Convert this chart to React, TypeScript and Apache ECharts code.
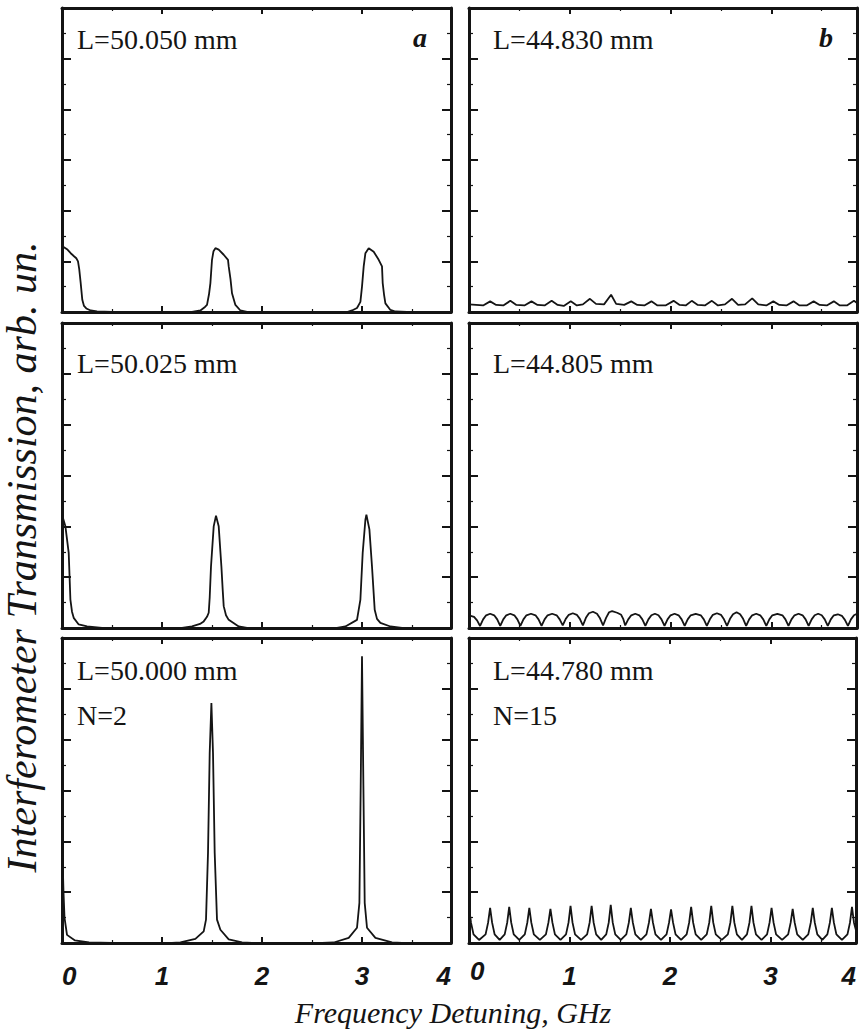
import React, { useEffect, useRef } from "react";
import * as echarts from "echarts";

// ---- data (x: frequency detuning, GHz; y: transmission, arb. un.) ----
const xTickLabels = ["0", "1", "2", "3", "4"];
const panelLabels = ["L=50.050 mm", "L=44.830 mm", "L=50.025 mm", "L=44.805 mm", "L=50.000 mm", "L=44.780 mm"];
const orderLabels = ["N=2", "N=15"];
const columnLetters = ["a", "b"];

const seriesL50050: number[][] = [
  [0, 1.26], [0.02, 1.28], [0.05, 1.24], [0.087, 1.16], [0.12, 1.1], [0.143, 1.06], [0.16, 1.0], [0.172, 0.85],
  [0.187, 0.57], [0.203, 0.24], [0.22, 0.12], [0.243, 0.07], [0.287, 0.03], [0.35, 0.01], [0.5, 0], [1.3, 0],
  [1.384, 0.03], [1.43, 0.1], [1.45, 0.14], [1.47, 0.35], [1.484, 0.57], [1.5, 1.03], [1.515, 1.2], [1.534, 1.26],
  [1.567, 1.23], [1.617, 1.13], [1.66, 1.03], [1.667, 0.9], [1.685, 0.65], [1.7, 0.37], [1.734, 0.14], [1.784, 0.03],
  [1.85, 0], [2.85, 0], [2.9, 0.03], [2.95, 0.08], [2.984, 0.2], [3.0, 0.5], [3.017, 0.9], [3.034, 1.16],
  [3.067, 1.26], [3.117, 1.19], [3.167, 1.03], [3.2, 0.9], [3.207, 0.57], [3.22, 0.35], [3.234, 0.17], [3.284, 0.04],
  [3.334, 0.01], [3.45, 0], [3.89, 0],
];

const seriesL50025: number[][] = [
  [0, 2.23], [0.034, 2.0], [0.067, 1.48], [0.084, 0.56], [0.1, 0.32], [0.117, 0.2], [0.167, 0.07], [0.25, 0.03],
  [0.4, 0], [1.2, 0], [1.3, 0.03], [1.38, 0.08], [1.417, 0.13], [1.45, 0.22], [1.467, 0.3], [1.477, 0.6],
  [1.49, 1.21], [1.517, 2.0], [1.54, 2.21], [1.567, 2.0], [1.594, 1.21], [1.607, 0.75], [1.617, 0.43], [1.64, 0.25],
  [1.667, 0.16], [1.767, 0.03], [1.85, 0], [2.75, 0], [2.834, 0.03], [2.95, 0.16], [2.984, 0.56], [3.007, 1.48],
  [3.034, 2.13], [3.044, 2.23], [3.074, 1.94], [3.1, 1.21], [3.127, 0.36], [3.15, 0.18], [3.184, 0.1], [3.284, 0.03],
  [3.4, 0], [3.89, 0],
];

const seriesL50000: number[][] = [
  [0, 2.5], [0.008, 1.5], [0.015, 1.0], [0.025, 0.5], [0.05, 0.16], [0.13, 0.05], [0.27, 0.01], [0.5, 0],
  [1.1, 0], [1.184, 0.01], [1.334, 0.08], [1.417, 0.23], [1.44, 0.46], [1.46, 1.77], [1.477, 3.74], [1.494, 4.72],
  [1.51, 3.74], [1.527, 1.77], [1.55, 0.46], [1.584, 0.26], [1.667, 0.07], [1.8, 0.01], [1.9, 0], [2.6, 0],
  [2.717, 0.01], [2.867, 0.1], [2.95, 0.3], [2.974, 0.79], [2.987, 3.08], [3.0, 5.64], [3.014, 3.08], [3.027, 0.79],
  [3.05, 0.3], [3.134, 0.1], [3.3, 0.01], [3.4, 0], [3.89, 0],
];

const seriesL44830: number[][] = [
  [0, 0.15], [0.07, 0.14], [0.14, 0.13], [0.21, 0.21], [0.27, 0.14], [0.34, 0.13], [0.41, 0.22], [0.47, 0.14],
  [0.55, 0.13], [0.62, 0.21], [0.68, 0.14], [0.75, 0.13], [0.82, 0.22], [0.88, 0.14], [0.94, 0.12], [1.01, 0.21],
  [1.07, 0.13], [1.13, 0.15], [1.2, 0.26], [1.26, 0.16], [1.34, 0.15], [1.41, 0.34], [1.46, 0.16], [1.54, 0.14],
  [1.61, 0.21], [1.67, 0.14], [1.74, 0.13], [1.81, 0.21], [1.87, 0.13], [1.95, 0.13], [2.03, 0.22], [2.09, 0.14],
  [2.15, 0.13], [2.21, 0.22], [2.27, 0.14], [2.34, 0.13], [2.41, 0.22], [2.47, 0.13], [2.54, 0.15], [2.61, 0.26],
  [2.67, 0.14], [2.74, 0.15], [2.81, 0.27], [2.87, 0.15], [2.95, 0.13], [3.02, 0.21], [3.08, 0.14], [3.15, 0.13],
  [3.22, 0.21], [3.28, 0.13], [3.35, 0.13], [3.42, 0.21], [3.48, 0.14], [3.55, 0.13], [3.62, 0.21], [3.68, 0.13],
  [3.75, 0.13], [3.82, 0.22], [3.85, 0.18],
];

const seriesL44805: number[][] = [
  [0, 0.25], [0.05, 0.22], [0.08, 0.15], [0.11, 0.04],
  [0.14, 0.17], [0.17, 0.25], [0.21, 0.28], [0.25, 0.25], [0.28, 0.17], [0.31, 0.04],
  [0.34, 0.17], [0.37, 0.25], [0.41, 0.28], [0.45, 0.25], [0.48, 0.17], [0.51, 0.04],
  [0.54, 0.17], [0.57, 0.25], [0.615, 0.28], [0.66, 0.25], [0.69, 0.17], [0.72, 0.04],
  [0.75, 0.17], [0.78, 0.25], [0.825, 0.28], [0.87, 0.25], [0.9, 0.17], [0.93, 0.05],
  [0.96, 0.18], [0.99, 0.26], [1.03, 0.29], [1.07, 0.26], [1.1, 0.18], [1.13, 0.05],
  [1.16, 0.2], [1.19, 0.29], [1.23, 0.32], [1.27, 0.28], [1.3, 0.19], [1.33, 0.05],
  [1.36, 0.2], [1.39, 0.31], [1.42, 0.33], [1.47, 0.3], [1.51, 0.26], [1.53, 0.18], [1.55, 0.05],
  [1.58, 0.17], [1.61, 0.25], [1.65, 0.28], [1.69, 0.25], [1.72, 0.17], [1.75, 0.04],
  [1.78, 0.17], [1.81, 0.25], [1.845, 0.28], [1.88, 0.25], [1.91, 0.17], [1.94, 0.04],
  [1.97, 0.17], [2.0, 0.25], [2.04, 0.28], [2.08, 0.25], [2.11, 0.17], [2.14, 0.04],
  [2.17, 0.17], [2.2, 0.25], [2.25, 0.28], [2.3, 0.25], [2.33, 0.17], [2.36, 0.04],
  [2.39, 0.17], [2.42, 0.26], [2.46, 0.29], [2.5, 0.26], [2.53, 0.17], [2.56, 0.04],
  [2.59, 0.18], [2.62, 0.27], [2.655, 0.31], [2.69, 0.27], [2.72, 0.18], [2.75, 0.04],
  [2.78, 0.17], [2.81, 0.25], [2.85, 0.28], [2.89, 0.25], [2.92, 0.17], [2.95, 0.04],
  [2.98, 0.17], [3.01, 0.25], [3.06, 0.28], [3.11, 0.25], [3.14, 0.17], [3.17, 0.04],
  [3.2, 0.17], [3.23, 0.25], [3.27, 0.28], [3.31, 0.25], [3.34, 0.17], [3.37, 0.04],
  [3.4, 0.17], [3.43, 0.25], [3.465, 0.28], [3.5, 0.25], [3.53, 0.17], [3.56, 0.04],
  [3.59, 0.17], [3.62, 0.25], [3.66, 0.27], [3.7, 0.24], [3.73, 0.16], [3.76, 0.04],
  [3.79, 0.17], [3.82, 0.25], [3.85, 0.28],
];

const seriesL44780: number[][] = [
  [0, 0.71], [0.02, 0.4], [0.045, 0.17], [0.1, 0.06], [0.165, 0.17], [0.19, 0.4],
  [0.21, 0.69], [0.23, 0.4], [0.255, 0.17], [0.305, 0.06], [0.355, 0.17], [0.38, 0.4],
  [0.4, 0.71], [0.42, 0.4], [0.445, 0.17], [0.5, 0.06], [0.555, 0.17], [0.58, 0.4],
  [0.6, 0.69], [0.62, 0.4], [0.645, 0.17], [0.705, 0.06], [0.765, 0.17], [0.79, 0.4],
  [0.81, 0.67], [0.83, 0.4], [0.855, 0.17], [0.91, 0.06], [0.965, 0.17], [0.99, 0.4],
  [1.01, 0.73], [1.03, 0.4], [1.055, 0.17], [1.115, 0.06], [1.175, 0.17], [1.2, 0.4],
  [1.22, 0.73], [1.24, 0.4], [1.265, 0.17], [1.315, 0.06], [1.365, 0.17], [1.39, 0.4],
  [1.41, 0.75], [1.43, 0.4], [1.455, 0.17], [1.51, 0.06], [1.565, 0.17], [1.59, 0.4],
  [1.61, 0.69], [1.63, 0.4], [1.655, 0.17], [1.71, 0.06], [1.765, 0.17], [1.79, 0.4],
  [1.81, 0.67], [1.83, 0.4], [1.855, 0.17], [1.91, 0.06], [1.965, 0.17], [1.99, 0.4],
  [2.01, 0.66], [2.03, 0.4], [2.055, 0.17], [2.11, 0.06], [2.165, 0.17], [2.19, 0.4],
  [2.21, 0.71], [2.23, 0.4], [2.255, 0.17], [2.31, 0.06], [2.365, 0.17], [2.39, 0.4],
  [2.41, 0.73], [2.43, 0.4], [2.455, 0.17], [2.515, 0.06], [2.575, 0.17], [2.6, 0.4],
  [2.62, 0.73], [2.64, 0.4], [2.665, 0.17], [2.715, 0.06], [2.765, 0.17], [2.79, 0.4],
  [2.81, 0.73], [2.83, 0.4], [2.855, 0.17], [2.91, 0.06], [2.965, 0.17], [2.99, 0.4],
  [3.01, 0.69], [3.03, 0.4], [3.055, 0.17], [3.115, 0.06], [3.175, 0.17], [3.2, 0.4],
  [3.22, 0.67], [3.24, 0.4], [3.265, 0.17], [3.32, 0.06], [3.375, 0.17], [3.4, 0.4],
  [3.42, 0.69], [3.44, 0.4], [3.465, 0.17], [3.515, 0.06], [3.565, 0.17], [3.59, 0.4],
  [3.61, 0.69], [3.63, 0.4], [3.655, 0.17], [3.71, 0.06], [3.765, 0.17], [3.79, 0.4],
  [3.81, 0.71], [3.83, 0.4], [3.85, 0.25],
];

// panel order: row-major (row 0: a, b; row 1: a, b; row 2: a, b)
const panelSeries = [seriesL50050, seriesL44830, seriesL50025, seriesL44805, seriesL50000, seriesL44780];

const INK = "#141414";
const SERIF = "'Liberation Serif', 'Times New Roman', serif";
const SANS = "'Liberation Sans', Arial, sans-serif";

export default function App() {
  const ref = useRef<HTMLDivElement>(null);

  useEffect(() => {
    if (!ref.current) return;
    const chart = echarts.init(ref.current, undefined, { renderer: "svg" });

    const cols = [
      { left: 62, width: 389, xMax: 3.89, textX: 77, letterX: 420 },
      { left: 469, width: 388, xMax: 3.85, textX: 493, letterX: 826 },
    ];
    const rows = [
      { top: 8, height: 304, labelY: 39 },
      { top: 323, height: 305, labelY: 363 },
      { top: 638, height: 305, labelY: 670 },
    ];

    const grids: any[] = [];
    const xAxes: any[] = [];
    const yAxes: any[] = [];
    const series: any[] = [];
    const graphics: any[] = [];

    const axisLine = { show: true, onZero: false, lineStyle: { color: INK, width: 3 } };

    const txt = (x: number, y: number, text: string, size: number, extra: any = {}, el: any = {}) => ({
      type: "text",
      x,
      y,
      ...el,
      style: {
        text,
        fill: INK,
        fontFamily: SERIF,
        fontSize: size,
        align: "left",
        verticalAlign: "middle",
        ...extra,
      },
    });

    rows.forEach((r, ri) => {
      cols.forEach((c, ci) => {
        const k = ri * 2 + ci;
        grids.push({ left: c.left, top: r.top, width: c.width, height: r.height, containLabel: false });
        const isBottom = ri === 2;
        const xBase = {
          gridIndex: k,
          type: "value",
          min: 0,
          max: c.xMax,
          interval: 1,
          axisLine,
          splitLine: { show: false },
          axisTick: { show: true, inside: true, length: 6, lineStyle: { color: INK, width: 2 } },
          minorTick: { show: true, splitNumber: 2, length: 3, lineStyle: { color: INK, width: 1.2 } },
        };
        xAxes.push({
          ...xBase,
          position: "bottom",
          axisLabel: {
            show: isBottom,
            margin: 20,
            color: INK,
            fontFamily: SANS,
            fontStyle: "italic",
            fontWeight: "bold",
            fontSize: 26,
            showMinLabel: true,
            showMaxLabel: true,
            hideOverlap: false,
            alignMinLabel: "left",
            alignMaxLabel: "right",
            formatter: (v: number) => {
              if (v > 3.5) return xTickLabels[4];
              if (ci === 1 && v === 0) return "";
              return xTickLabels[Math.round(v)];
            },
          },
        });
        xAxes.push({ ...xBase, position: "top", axisLabel: { show: false } });

        const yBase = {
          gridIndex: k,
          type: "value",
          min: 0,
          max: 6,
          interval: 1,
          axisLine,
          splitLine: { show: false },
          axisLabel: { show: false },
          axisTick: { show: true, inside: true, length: 9, lineStyle: { color: INK, width: 2 } },
          minorTick: { show: true, splitNumber: 2, length: 4, lineStyle: { color: INK, width: 1.2 } },
        };
        yAxes.push({ ...yBase, position: "left" });
        yAxes.push({ ...yBase, position: "right" });

        series.push({
          type: "line",
          xAxisIndex: k * 2,
          yAxisIndex: k * 2,
          data: panelSeries[k],
          showSymbol: false,
          symbol: "none",
          clip: true,
          lineStyle: { color: INK, width: 1.8 },
        });

        graphics.push(txt(c.textX, r.labelY, panelLabels[k], 28));
        if (isBottom) graphics.push(txt(c.textX, 715, orderLabels[ci], 28));
        if (ri === 0) {
          graphics.push(
            txt(c.letterX, 37, columnLetters[ci], 28, { align: "center", fontStyle: "italic", fontWeight: "bold" })
          );
        }
      });
    });

    graphics.push(txt(453, 1012, "Frequency Detuning, GHz", 30, { align: "center", fontStyle: "italic" }));
    graphics.push(
      txt(22, 557, "Interferometer Transmission, arb. un.", 42, { align: "center", fontStyle: "italic" }, {
        rotation: Math.PI / 2,
      })
    );

    chart.setOption({
      animation: false,
      backgroundColor: "#ffffff",
      // first tick label of the right-hand column
      title: {
        text: xTickLabels[0],
        left: 470,
        top: 958,
        padding: 0,
        textStyle: { color: INK, fontFamily: SANS, fontStyle: "italic", fontWeight: "bold", fontSize: 26 },
      },
      grid: grids,
      xAxis: xAxes,
      yAxis: yAxes,
      series,
      graphic: graphics,
    });

    return () => chart.dispose();
  }, []);

  return (
    <div
      ref={ref}
      style={{ position: "absolute", left: 0, top: 0, width: 859, height: 1034, background: "#fff" }}
    />
  );
}
